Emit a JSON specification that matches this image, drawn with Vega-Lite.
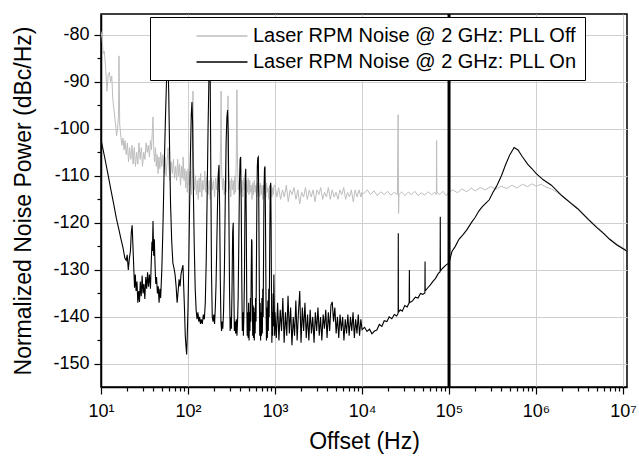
{
"$schema":"https://vega.github.io/schema/vega-lite/v6.json",
"width":526,"height":373,
"autosize":{"type":"none"},
"padding":{"left":101,"top":14,"right":12,"bottom":76},
"background":"white",
"config":{
"font":"Liberation Sans",
"view":{"stroke":"black","strokeWidth":1.5},
"axis":{"domainColor":"black","domainWidth":1.5,"tickColor":"black","tickWidth":1.2,"labelColor":"black","titleColor":"black","labelFont":"Liberation Sans","titleFont":"Liberation Sans","labelFontSize":18,"titleFontSize":23,"titleFontWeight":"normal","gridColor":"#cfcfcf","gridWidth":1}
},
"datasets":{
"noise":[
{"s":"Off","f":10,"v":-79.3},{"s":"Off","f":10.3,"v":-80.8},{"s":"Off","f":10.6,"v":-84},{"s":"Off","f":10.9,"v":-83.5},{"s":"Off","f":11.3,"v":-87},{"s":"Off","f":11.7,"v":-92},{"s":"Off","f":12.1,"v":-88.5},{"s":"Off","f":12.5,"v":-88},{"s":"Off","f":12.9,"v":-90},{"s":"Off","f":13.3,"v":-88.8},{"s":"Off","f":13.7,"v":-94},{"s":"Off","f":14.1,"v":-96},{"s":"Off","f":14.6,"v":-98.5},{"s":"Off","f":15.1,"v":-101.5},{"s":"Off","f":15.5,"v":-100},{"s":"Off","f":15.9,"v":-97},{"s":"Off","f":16.1,"v":-84.5},{"s":"Off","f":16.4,"v":-99},{"s":"Off","f":16.9,"v":-101.5},{"s":"Off","f":17.4,"v":-103.5},{"s":"Off","f":17.9,"v":-102},{"s":"Off","f":18.4,"v":-104.5},{"s":"Off","f":18.9,"v":-102.5},{"s":"Off","f":19.5,"v":-105.5},{"s":"Off","f":20.1,"v":-103},{"s":"Off","f":20.7,"v":-107},{"s":"Off","f":21.3,"v":-104},{"s":"Off","f":22,"v":-106.5},{"s":"Off","f":22.7,"v":-103.5},{"s":"Off","f":23.4,"v":-107.5},{"s":"Off","f":24.1,"v":-104},{"s":"Off","f":24.9,"v":-108},{"s":"Off","f":25.7,"v":-105},{"s":"Off","f":26.5,"v":-107.5},{"s":"Off","f":27.3,"v":-103},{"s":"Off","f":28.2,"v":-106.5},{"s":"Off","f":29.1,"v":-104},{"s":"Off","f":30,"v":-108},{"s":"Off","f":31,"v":-105},{"s":"Off","f":32,"v":-106.5},{"s":"Off","f":33,"v":-103},{"s":"Off","f":34,"v":-105},{"s":"Off","f":35,"v":-103.5},{"s":"Off","f":36,"v":-106},{"s":"Off","f":37,"v":-102.5},{"s":"Off","f":38,"v":-104.5},{"s":"Off","f":39,"v":-100},{"s":"Off","f":39.6,"v":-97.5},{"s":"Off","f":40.3,"v":-104},{"s":"Off","f":41.2,"v":-107},{"s":"Off","f":42.2,"v":-104},{"s":"Off","f":43.2,"v":-108},{"s":"Off","f":44.2,"v":-105.5},{"s":"Off","f":45.3,"v":-109.5},{"s":"Off","f":46.4,"v":-106},{"s":"Off","f":47.5,"v":-108.5},{"s":"Off","f":48.6,"v":-105},{"s":"Off","f":50,"v":-108},{"s":"Off","f":51.5,"v":-105.5},{"s":"Off","f":53,"v":-109.5},{"s":"Off","f":54.5,"v":-106},{"s":"Off","f":56,"v":-110},{"s":"Off","f":57.5,"v":-107},{"s":"Off","f":59,"v":-104},{"s":"Off","f":60.5,"v":-108.5},{"s":"Off","f":62,"v":-111},{"s":"Off","f":64,"v":-107},{"s":"Off","f":66,"v":-109.5},{"s":"Off","f":68,"v":-106.5},{"s":"Off","f":70,"v":-110.5},{"s":"Off","f":72,"v":-108},{"s":"Off","f":74,"v":-111},{"s":"Off","f":76,"v":-106.5},{"s":"Off","f":78,"v":-110},{"s":"Off","f":80,"v":-107.5},{"s":"Off","f":82,"v":-112},{"s":"Off","f":84,"v":-108},{"s":"Off","f":86,"v":-110.5},{"s":"Off","f":88,"v":-106},{"s":"Off","f":90,"v":-111},{"s":"Off","f":92,"v":-108.5},{"s":"Off","f":94,"v":-112.5},{"s":"Off","f":96,"v":-109},{"s":"Off","f":98,"v":-113.5},{"s":"Off","f":100,"v":-108.5},{"s":"Off","f":103,"v":-112},{"s":"Off","f":106,"v":-109},{"s":"Off","f":109,"v":-114},{"s":"Off","f":112,"v":-106},{"s":"Off","f":114,"v":-92},{"s":"Off","f":116,"v":-108},{"s":"Off","f":119,"v":-113},{"s":"Off","f":122,"v":-110},{"s":"Off","f":125,"v":-114},{"s":"Off","f":128,"v":-111},{"s":"Off","f":131,"v":-115},{"s":"Off","f":134,"v":-110.5},{"s":"Off","f":137,"v":-113.5},{"s":"Off","f":140,"v":-109.5},{"s":"Off","f":144,"v":-114.5},{"s":"Off","f":148,"v":-111},{"s":"Off","f":152,"v":-113},{"s":"Off","f":156,"v":-109},{"s":"Off","f":160,"v":-113.5},{"s":"Off","f":165,"v":-110},{"s":"Off","f":170,"v":-114},{"s":"Off","f":175,"v":-111},{"s":"Off","f":180,"v":-115},{"s":"Off","f":185,"v":-110.5},{"s":"Off","f":190,"v":-113},{"s":"Off","f":196,"v":-111},{"s":"Off","f":202,"v":-114.5},{"s":"Off","f":208,"v":-110.5},{"s":"Off","f":214,"v":-113},{"s":"Off","f":220,"v":-110},{"s":"Off","f":226,"v":-113.5},{"s":"Off","f":232,"v":-110.5},{"s":"Off","f":237,"v":-103},{"s":"Off","f":240,"v":-92},{"s":"Off","f":243,"v":-108},{"s":"Off","f":249,"v":-113},{"s":"Off","f":255,"v":-110.5},{"s":"Off","f":261,"v":-114},{"s":"Off","f":267,"v":-111},{"s":"Off","f":273,"v":-113.5},{"s":"Off","f":279,"v":-110},{"s":"Off","f":284,"v":-102},{"s":"Off","f":288,"v":-93},{"s":"Off","f":292,"v":-105},{"s":"Off","f":297,"v":-113},{"s":"Off","f":303,"v":-111},{"s":"Off","f":310,"v":-114.5},{"s":"Off","f":317,"v":-110.5},{"s":"Off","f":324,"v":-113},{"s":"Off","f":331,"v":-111},{"s":"Off","f":338,"v":-114},{"s":"Off","f":345,"v":-110},{"s":"Off","f":352,"v":-113.5},{"s":"Off","f":359,"v":-106},{"s":"Off","f":365,"v":-91.7},{"s":"Off","f":371,"v":-108},{"s":"Off","f":378,"v":-113},{"s":"Off","f":386,"v":-111},{"s":"Off","f":394,"v":-114},{"s":"Off","f":402,"v":-110.5},{"s":"Off","f":410,"v":-113.5},{"s":"Off","f":418,"v":-111},{"s":"Off","f":427,"v":-114.5},{"s":"Off","f":436,"v":-110.5},{"s":"Off","f":445,"v":-113},{"s":"Off","f":454,"v":-111.5},{"s":"Off","f":463,"v":-114.5},{"s":"Off","f":472,"v":-111},{"s":"Off","f":482,"v":-113.5},{"s":"Off","f":492,"v":-110.5},{"s":"Off","f":502,"v":-114},{"s":"Off","f":512,"v":-111},{"s":"Off","f":522,"v":-113.5},{"s":"Off","f":533,"v":-112},{"s":"Off","f":544,"v":-115},{"s":"Off","f":555,"v":-111.5},{"s":"Off","f":566,"v":-114},{"s":"Off","f":578,"v":-111},{"s":"Off","f":590,"v":-113.5},{"s":"Off","f":602,"v":-112},{"s":"Off","f":614,"v":-114.5},{"s":"Off","f":627,"v":-111.5},{"s":"Off","f":640,"v":-113.5},{"s":"Off","f":653,"v":-112},{"s":"Off","f":666,"v":-114.5},{"s":"Off","f":680,"v":-111.5},{"s":"Off","f":694,"v":-114},{"s":"Off","f":708,"v":-112},{"s":"Off","f":722,"v":-115},{"s":"Off","f":737,"v":-112},{"s":"Off","f":752,"v":-114},{"s":"Off","f":767,"v":-112},{"s":"Off","f":783,"v":-114.5},{"s":"Off","f":799,"v":-111.5},{"s":"Off","f":815,"v":-113.5},{"s":"Off","f":832,"v":-112.5},{"s":"Off","f":849,"v":-115},{"s":"Off","f":866,"v":-112},{"s":"Off","f":884,"v":-114},{"s":"Off","f":902,"v":-112},{"s":"Off","f":921,"v":-114.5},{"s":"Off","f":940,"v":-112.5},{"s":"Off","f":959,"v":-114},{"s":"Off","f":979,"v":-112},{"s":"Off","f":1000,"v":-112},
{"s":"Off","f":1050,"v":-114.5},{"s":"Off","f":1100,"v":-112.5},{"s":"Off","f":1160,"v":-115},{"s":"Off","f":1220,"v":-113},{"s":"Off","f":1280,"v":-114.5},{"s":"Off","f":1350,"v":-112},{"s":"Off","f":1420,"v":-115.5},{"s":"Off","f":1490,"v":-113},{"s":"Off","f":1570,"v":-114},{"s":"Off","f":1650,"v":-112.5},{"s":"Off","f":1740,"v":-115},{"s":"Off","f":1830,"v":-113},{"s":"Off","f":1920,"v":-116},{"s":"Off","f":2020,"v":-113.5},{"s":"Off","f":2130,"v":-114.5},{"s":"Off","f":2240,"v":-112.5},{"s":"Off","f":2350,"v":-115},{"s":"Off","f":2480,"v":-113},{"s":"Off","f":2600,"v":-114.5},{"s":"Off","f":2740,"v":-113},{"s":"Off","f":2880,"v":-115.5},{"s":"Off","f":3030,"v":-113},{"s":"Off","f":3190,"v":-114},{"s":"Off","f":3350,"v":-112.5},{"s":"Off","f":3530,"v":-115},{"s":"Off","f":3710,"v":-113.5},{"s":"Off","f":3900,"v":-114.5},{"s":"Off","f":4100,"v":-112.5},{"s":"Off","f":4320,"v":-115},{"s":"Off","f":4540,"v":-113},{"s":"Off","f":4780,"v":-114.5},{"s":"Off","f":5030,"v":-113.5},{"s":"Off","f":5290,"v":-115},{"s":"Off","f":5560,"v":-113},{"s":"Off","f":5850,"v":-114},{"s":"Off","f":6160,"v":-112.5},{"s":"Off","f":6480,"v":-115},{"s":"Off","f":6810,"v":-113.5},{"s":"Off","f":7170,"v":-114.5},{"s":"Off","f":7540,"v":-113},{"s":"Off","f":7930,"v":-115.5},{"s":"Off","f":8350,"v":-113},{"s":"Off","f":8780,"v":-114.5},{"s":"Off","f":9240,"v":-113},{"s":"Off","f":9720,"v":-114.5},{"s":"Off","f":10000,"v":-113.5},
{"s":"Off","f":10500,"v":-113.8},{"s":"Off","f":11500,"v":-113},{"s":"Off","f":12500,"v":-114},{"s":"Off","f":13700,"v":-113.2},{"s":"Off","f":15000,"v":-114.2},{"s":"Off","f":16400,"v":-113.4},{"s":"Off","f":18000,"v":-114},{"s":"Off","f":19700,"v":-113.3},{"s":"Off","f":21500,"v":-114.1},{"s":"Off","f":23500,"v":-113.5},{"s":"Off","f":25500,"v":-114},{"s":"Off","f":26000,"v":-97},{"s":"Off","f":26300,"v":-118},{"s":"Off","f":26600,"v":-114},{"s":"Off","f":28500,"v":-113.4},{"s":"Off","f":31000,"v":-114.2},{"s":"Off","f":34000,"v":-113.5},{"s":"Off","f":37000,"v":-114},{"s":"Off","f":40500,"v":-113.3},{"s":"Off","f":44000,"v":-114.2},{"s":"Off","f":48000,"v":-113.6},{"s":"Off","f":52500,"v":-114.1},{"s":"Off","f":57500,"v":-113.4},{"s":"Off","f":63000,"v":-114},{"s":"Off","f":68500,"v":-113.5},{"s":"Off","f":71500,"v":-114},{"s":"Off","f":72000,"v":-102.5},{"s":"Off","f":72500,"v":-113.5},{"s":"Off","f":78000,"v":-114},{"s":"Off","f":85000,"v":-113.3},{"s":"Off","f":92500,"v":-114.2},{"s":"Off","f":100000,"v":-113.5},
{"s":"Off","f":110000,"v":-113},{"s":"Off","f":125000,"v":-113.6},{"s":"Off","f":140000,"v":-112.8},{"s":"Off","f":160000,"v":-113.4},{"s":"Off","f":180000,"v":-112.6},{"s":"Off","f":200000,"v":-113.2},{"s":"Off","f":230000,"v":-112.5},{"s":"Off","f":260000,"v":-113},{"s":"Off","f":300000,"v":-112.3},{"s":"Off","f":350000,"v":-112.8},{"s":"Off","f":400000,"v":-112.2},{"s":"Off","f":460000,"v":-112.7},{"s":"Off","f":530000,"v":-112},{"s":"Off","f":600000,"v":-112.6},{"s":"Off","f":700000,"v":-111.8},{"s":"Off","f":800000,"v":-112.3},{"s":"Off","f":900000,"v":-111.7},{"s":"Off","f":1000000,"v":-112.2},{"s":"Off","f":1150000,"v":-111.8},{"s":"Off","f":1300000,"v":-112.4},{"s":"Off","f":1500000,"v":-112.8},{"s":"Off","f":1700000,"v":-113.4},{"s":"Off","f":2000000,"v":-114.3},{"s":"Off","f":2500000,"v":-115.6},{"s":"Off","f":3000000,"v":-116.8},{"s":"Off","f":4000000,"v":-119.1},{"s":"Off","f":5000000,"v":-120.8},{"s":"Off","f":6000000,"v":-122.1},{"s":"Off","f":7000000,"v":-123.3},{"s":"Off","f":8500000,"v":-124.5},{"s":"Off","f":10000000,"v":-125.3},{"s":"Off","f":11000000,"v":-125.8},
{"s":"On","f":10,"v":-102.3},{"s":"On","f":11,"v":-106},{"s":"On","f":12,"v":-109.6},{"s":"On","f":13,"v":-113},{"s":"On","f":14,"v":-116},{"s":"On","f":15,"v":-119},{"s":"On","f":16,"v":-121.3},{"s":"On","f":17,"v":-123.5},{"s":"On","f":17.9,"v":-125.3},{"s":"On","f":18.8,"v":-127.5},{"s":"On","f":19.5,"v":-128},{"s":"On","f":20,"v":-126.8},{"s":"On","f":20.6,"v":-130},{"s":"On","f":21.2,"v":-127.5},{"s":"On","f":21.8,"v":-126},{"s":"On","f":22.3,"v":-122},{"s":"On","f":22.8,"v":-120.5},{"s":"On","f":23.3,"v":-125},{"s":"On","f":23.8,"v":-129.5},{"s":"On","f":24.3,"v":-133.8},{"s":"On","f":24.8,"v":-131},{"s":"On","f":25.3,"v":-134.5},{"s":"On","f":25.9,"v":-132.5},{"s":"On","f":26.5,"v":-137},{"s":"On","f":27.1,"v":-134.5},{"s":"On","f":27.7,"v":-136.8},{"s":"On","f":28.3,"v":-132.5},{"s":"On","f":29,"v":-135.6},{"s":"On","f":29.7,"v":-131.2},{"s":"On","f":30.4,"v":-135},{"s":"On","f":31.1,"v":-133},{"s":"On","f":31.9,"v":-136.2},{"s":"On","f":32.7,"v":-131.5},{"s":"On","f":33.5,"v":-134},{"s":"On","f":34.3,"v":-130.5},{"s":"On","f":35.1,"v":-133.6},{"s":"On","f":36,"v":-131},{"s":"On","f":37,"v":-134},{"s":"On","f":37.8,"v":-128.5},{"s":"On","f":38.5,"v":-124},{"s":"On","f":39,"v":-126},{"s":"On","f":39.6,"v":-119.6},{"s":"On","f":40.3,"v":-127},{"s":"On","f":41,"v":-123.5},{"s":"On","f":41.8,"v":-129},{"s":"On","f":42.6,"v":-133},{"s":"On","f":43.5,"v":-131.5},{"s":"On","f":44.5,"v":-135},{"s":"On","f":45.5,"v":-133.5},{"s":"On","f":46.5,"v":-137},{"s":"On","f":47.5,"v":-134},{"s":"On","f":48.5,"v":-136},{"s":"On","f":50,"v":-130},{"s":"On","f":51.5,"v":-121},{"s":"On","f":53,"v":-110},{"s":"On","f":55,"v":-98},{"s":"On","f":57,"v":-88},{"s":"On","f":58.5,"v":-84},{"s":"On","f":60,"v":-92},{"s":"On","f":61.5,"v":-105},{"s":"On","f":63,"v":-116},{"s":"On","f":65,"v":-124},{"s":"On","f":67,"v":-128.5},{"s":"On","f":69,"v":-129.6},{"s":"On","f":71,"v":-131},{"s":"On","f":73,"v":-133.5},{"s":"On","f":75,"v":-137},{"s":"On","f":77,"v":-134.5},{"s":"On","f":79,"v":-132},{"s":"On","f":81,"v":-133.5},{"s":"On","f":83,"v":-131},{"s":"On","f":85,"v":-130},{"s":"On","f":87.5,"v":-129},{"s":"On","f":89,"v":-133},{"s":"On","f":91,"v":-138},{"s":"On","f":93,"v":-144},{"s":"On","f":95,"v":-146.5},{"s":"On","f":96.5,"v":-148},{"s":"On","f":98,"v":-144},
{"s":"On","f":100,"v":-138},{"s":"On","f":102,"v":-129},{"s":"On","f":104,"v":-118},{"s":"On","f":106.5,"v":-106},{"s":"On","f":109,"v":-97},{"s":"On","f":111,"v":-94.3},{"s":"On","f":113,"v":-99},{"s":"On","f":115,"v":-112},{"s":"On","f":118,"v":-125},{"s":"On","f":121,"v":-134},{"s":"On","f":124,"v":-138.5},{"s":"On","f":127,"v":-140.5},{"s":"On","f":130,"v":-139},{"s":"On","f":133,"v":-141},{"s":"On","f":136,"v":-140},{"s":"On","f":139,"v":-141.5},{"s":"On","f":142,"v":-140.5},{"s":"On","f":146,"v":-141.5},{"s":"On","f":150,"v":-139.5},{"s":"On","f":154,"v":-140.5},{"s":"On","f":158,"v":-137},{"s":"On","f":162,"v":-128},{"s":"On","f":166,"v":-114},{"s":"On","f":170,"v":-100},{"s":"On","f":174,"v":-89},{"s":"On","f":177,"v":-84},{"s":"On","f":180,"v":-90},{"s":"On","f":183,"v":-110},{"s":"On","f":186,"v":-130},{"s":"On","f":190,"v":-140},{"s":"On","f":194,"v":-141},{"s":"On","f":198,"v":-139.5},{"s":"On","f":202,"v":-141.5},{"s":"On","f":206,"v":-138},{"s":"On","f":210,"v":-133},{"s":"On","f":214,"v":-125},{"s":"On","f":219,"v":-115},{"s":"On","f":223,"v":-109.5},{"s":"On","f":227,"v":-107.7},{"s":"On","f":231,"v":-117},{"s":"On","f":235,"v":-132},{"s":"On","f":239,"v":-141},{"s":"On","f":243,"v":-143},{"s":"On","f":247,"v":-141},{"s":"On","f":251,"v":-142.5},{"s":"On","f":256,"v":-139},{"s":"On","f":262,"v":-130},{"s":"On","f":268,"v":-115},{"s":"On","f":274,"v":-103},{"s":"On","f":280,"v":-97.5},{"s":"On","f":285,"v":-96},{"s":"On","f":290,"v":-101},{"s":"On","f":295,"v":-118},{"s":"On","f":300,"v":-134},{"s":"On","f":305,"v":-143},{"s":"On","f":310,"v":-140},{"s":"On","f":315,"v":-142.5},{"s":"On","f":320,"v":-135},{"s":"On","f":326,"v":-122},{"s":"On","f":331,"v":-120},{"s":"On","f":336,"v":-133},{"s":"On","f":341,"v":-143},{"s":"On","f":347,"v":-141},{"s":"On","f":353,"v":-143.5},{"s":"On","f":359,"v":-140.5},{"s":"On","f":365,"v":-144},{"s":"On","f":371,"v":-141},{"s":"On","f":377,"v":-136},{"s":"On","f":383,"v":-125},{"s":"On","f":390,"v":-112},{"s":"On","f":397,"v":-106.5},{"s":"On","f":403,"v":-106},{"s":"On","f":409,"v":-116},{"s":"On","f":415,"v":-132},{"s":"On","f":421,"v":-143},{"s":"On","f":427,"v":-139},{"s":"On","f":433,"v":-144},{"s":"On","f":439,"v":-139.5},{"s":"On","f":445,"v":-132},{"s":"On","f":450,"v":-120},{"s":"On","f":455,"v":-110},{"s":"On","f":461,"v":-108.5},{"s":"On","f":467,"v":-119},{"s":"On","f":473,"v":-136},{"s":"On","f":479,"v":-144},{"s":"On","f":485,"v":-139},{"s":"On","f":491,"v":-144.5},{"s":"On","f":497,"v":-137},{"s":"On","f":503,"v":-145},{"s":"On","f":509,"v":-139},{"s":"On","f":515,"v":-143},{"s":"On","f":521,"v":-136},{"s":"On","f":527,"v":-141},{"s":"On","f":533,"v":-130},{"s":"On","f":538,"v":-123.5},{"s":"On","f":543,"v":-124},{"s":"On","f":548,"v":-134},{"s":"On","f":554,"v":-144},{"s":"On","f":560,"v":-137.5},{"s":"On","f":566,"v":-144.5},{"s":"On","f":572,"v":-138},{"s":"On","f":578,"v":-145},{"s":"On","f":584,"v":-139},{"s":"On","f":591,"v":-143.5},{"s":"On","f":598,"v":-136},{"s":"On","f":605,"v":-141},{"s":"On","f":612,"v":-128},{"s":"On","f":619,"v":-115},{"s":"On","f":626,"v":-108},{"s":"On","f":634,"v":-106.2},{"s":"On","f":643,"v":-106},{"s":"On","f":651,"v":-116},{"s":"On","f":659,"v":-132},{"s":"On","f":667,"v":-144},{"s":"On","f":675,"v":-137},{"s":"On","f":683,"v":-145},{"s":"On","f":691,"v":-139},{"s":"On","f":699,"v":-144},{"s":"On","f":707,"v":-136},{"s":"On","f":715,"v":-143.5},{"s":"On","f":723,"v":-134},{"s":"On","f":731,"v":-140},{"s":"On","f":739,"v":-126},{"s":"On","f":747,"v":-113},{"s":"On","f":757,"v":-108.5},{"s":"On","f":767,"v":-108},{"s":"On","f":777,"v":-119},{"s":"On","f":787,"v":-135},{"s":"On","f":797,"v":-145},{"s":"On","f":807,"v":-138},{"s":"On","f":817,"v":-144.5},{"s":"On","f":827,"v":-136.5},{"s":"On","f":837,"v":-143},{"s":"On","f":847,"v":-134},{"s":"On","f":857,"v":-140},{"s":"On","f":867,"v":-128},{"s":"On","f":877,"v":-116},{"s":"On","f":885,"v":-112},{"s":"On","f":893,"v":-111.5},{"s":"On","f":902,"v":-121},{"s":"On","f":911,"v":-136},{"s":"On","f":920,"v":-145.5},{"s":"On","f":930,"v":-139},{"s":"On","f":940,"v":-144},{"s":"On","f":950,"v":-135},{"s":"On","f":960,"v":-142},{"s":"On","f":970,"v":-131},{"s":"On","f":980,"v":-137},{"s":"On","f":990,"v":-144},
{"s":"On","f":1000,"v":-139},{"s":"On","f":1035,"v":-144.5},{"s":"On","f":1071,"v":-137},{"s":"On","f":1109,"v":-145},{"s":"On","f":1148,"v":-138.5},{"s":"On","f":1188,"v":-143},{"s":"On","f":1230,"v":-136},{"s":"On","f":1273,"v":-145.5},{"s":"On","f":1318,"v":-139},{"s":"On","f":1364,"v":-144},{"s":"On","f":1411,"v":-135.5},{"s":"On","f":1461,"v":-143.5},{"s":"On","f":1512,"v":-138},{"s":"On","f":1565,"v":-146},{"s":"On","f":1620,"v":-140},{"s":"On","f":1677,"v":-144},{"s":"On","f":1735,"v":-136.5},{"s":"On","f":1796,"v":-145},{"s":"On","f":1859,"v":-139},{"s":"On","f":1924,"v":-134.5},{"s":"On","f":1991,"v":-145.5},{"s":"On","f":2061,"v":-138},{"s":"On","f":2133,"v":-143},{"s":"On","f":2208,"v":-137},{"s":"On","f":2285,"v":-144.5},{"s":"On","f":2365,"v":-139.5},{"s":"On","f":2448,"v":-145},{"s":"On","f":2534,"v":-138.5},{"s":"On","f":2622,"v":-143.5},{"s":"On","f":2714,"v":-140},{"s":"On","f":2809,"v":-145.5},{"s":"On","f":2907,"v":-139},{"s":"On","f":3009,"v":-143},{"s":"On","f":3115,"v":-138},{"s":"On","f":3224,"v":-144},{"s":"On","f":3336,"v":-140},{"s":"On","f":3453,"v":-145},{"s":"On","f":3574,"v":-139.5},{"s":"On","f":3699,"v":-142.5},{"s":"On","f":3829,"v":-138.5},{"s":"On","f":3963,"v":-144.5},{"s":"On","f":4101,"v":-139},{"s":"On","f":4245,"v":-143},{"s":"On","f":4393,"v":-137.5},{"s":"On","f":4547,"v":-136.8},{"s":"On","f":4706,"v":-141},{"s":"On","f":4871,"v":-138},{"s":"On","f":5042,"v":-143.5},{"s":"On","f":5218,"v":-140},{"s":"On","f":5401,"v":-144.5},{"s":"On","f":5590,"v":-139.5},{"s":"On","f":5785,"v":-143},{"s":"On","f":5988,"v":-140},{"s":"On","f":6197,"v":-145},{"s":"On","f":6414,"v":-140.5},{"s":"On","f":6639,"v":-143.5},{"s":"On","f":6871,"v":-139.5},{"s":"On","f":7112,"v":-144},{"s":"On","f":7360,"v":-140},{"s":"On","f":7618,"v":-143},{"s":"On","f":7885,"v":-139},{"s":"On","f":8161,"v":-144.5},{"s":"On","f":8446,"v":-140.5},{"s":"On","f":8742,"v":-143.5},{"s":"On","f":9048,"v":-139.5},{"s":"On","f":9365,"v":-144},{"s":"On","f":9692,"v":-140.5},
{"s":"On","f":10000,"v":-142.7},{"s":"On","f":10700,"v":-142.2},{"s":"On","f":11400,"v":-143.1},{"s":"On","f":12200,"v":-142.6},{"s":"On","f":13000,"v":-143.6},{"s":"On","f":13900,"v":-143},{"s":"On","f":14800,"v":-142.8},{"s":"On","f":15800,"v":-141.6},{"s":"On","f":16900,"v":-142},{"s":"On","f":18000,"v":-140.8},{"s":"On","f":19300,"v":-141},{"s":"On","f":20500,"v":-140},{"s":"On","f":22000,"v":-140.4},{"s":"On","f":23500,"v":-139.5},{"s":"On","f":25000,"v":-139.8},{"s":"On","f":26000,"v":-139.2},{"s":"On","f":26100,"v":-122.2},{"s":"On","f":26200,"v":-139},{"s":"On","f":27500,"v":-138.5},{"s":"On","f":29000,"v":-138.8},{"s":"On","f":31000,"v":-137.6},{"s":"On","f":33000,"v":-137.9},{"s":"On","f":34800,"v":-137},{"s":"On","f":35000,"v":-130},{"s":"On","f":35200,"v":-137},{"s":"On","f":38000,"v":-136.6},{"s":"On","f":41000,"v":-135.8},{"s":"On","f":44000,"v":-136},{"s":"On","f":47000,"v":-135},{"s":"On","f":50000,"v":-135.2},{"s":"On","f":52800,"v":-134.9},{"s":"On","f":53000,"v":-128.2},{"s":"On","f":53200,"v":-134.5},{"s":"On","f":57000,"v":-133.8},{"s":"On","f":61000,"v":-133.2},{"s":"On","f":65000,"v":-132.5},{"s":"On","f":70000,"v":-131.8},{"s":"On","f":75000,"v":-130.8},{"s":"On","f":79000,"v":-130.4},{"s":"On","f":79300,"v":-118.7},{"s":"On","f":79600,"v":-130.2},{"s":"On","f":85000,"v":-129.6},{"s":"On","f":92000,"v":-129},{"s":"On","f":100000,"v":-128.5},{"s":"On","f":108000,"v":-126.1},{"s":"On","f":118000,"v":-125},{"s":"On","f":130000,"v":-123.5},{"s":"On","f":145000,"v":-122.5},{"s":"On","f":160000,"v":-121.5},{"s":"On","f":180000,"v":-120},{"s":"On","f":200000,"v":-118.8},{"s":"On","f":220000,"v":-117.5},{"s":"On","f":240000,"v":-116.6},{"s":"On","f":265000,"v":-115.8},{"s":"On","f":290000,"v":-115.1},{"s":"On","f":320000,"v":-113.5},{"s":"On","f":350000,"v":-112.3},{"s":"On","f":400000,"v":-110},{"s":"On","f":450000,"v":-107.5},{"s":"On","f":500000,"v":-105.5},{"s":"On","f":560000,"v":-104},{"s":"On","f":620000,"v":-104.5},{"s":"On","f":700000,"v":-106},{"s":"On","f":800000,"v":-107.5},{"s":"On","f":900000,"v":-108.5},{"s":"On","f":1000000,"v":-109.5},{"s":"On","f":1200000,"v":-110.8},{"s":"On","f":1500000,"v":-112},{"s":"On","f":2000000,"v":-114.3},{"s":"On","f":2500000,"v":-115.8},{"s":"On","f":3000000,"v":-117},{"s":"On","f":4000000,"v":-119.3},{"s":"On","f":5000000,"v":-121},{"s":"On","f":6000000,"v":-122.3},{"s":"On","f":7000000,"v":-123.5},{"s":"On","f":8500000,"v":-124.7},{"s":"On","f":10000000,"v":-125.5},{"s":"On","f":11000000,"v":-126}
]
},
"encoding":{
"x":{"field":"f","type":"quantitative",
"scale":{"type":"log","domain":[10,11100000],"nice":false},
"axis":{"title":"Offset (Hz)","values":[10,20,30,40,50,60,70,80,90,100,200,300,400,500,600,700,800,900,1000,2000,3000,4000,5000,6000,7000,8000,9000,10000,20000,30000,40000,50000,60000,70000,80000,90000,100000,200000,300000,400000,500000,600000,700000,800000,900000,1000000,2000000,3000000,4000000,5000000,6000000,7000000,8000000,9000000,10000000],
"labelExpr":"abs(log(datum.value)/LN10 - round(log(datum.value)/LN10)) < 0.001 ? '10' + ['⁰','¹','²','³','⁴','⁵','⁶','⁷'][round(log(datum.value)/LN10)] : ''",
"labelOverlap":false,"labelFlush":false,"labelPadding":8,"titlePadding":10,
"tickSize":{"condition":{"test":"abs(log(datum.value)/LN10 - round(log(datum.value)/LN10)) < 0.001","value":7},"value":4},
"gridOpacity":{"condition":{"test":"abs(log(datum.value)/LN10 - round(log(datum.value)/LN10)) < 0.001","value":1},"value":0}}}
},
"layer":[
{"data":{"name":"noise"},
"encoding":{
"y":{"field":"v","type":"quantitative","scale":{"domain":[-154.9,-75.6],"nice":false,"zero":false},
"axis":{"title":"Normalized Noise Power (dBc/Hz)","values":[-150,-145,-140,-135,-130,-125,-120,-115,-110,-105,-100,-95,-90,-85,-80],
"labelExpr":"datum.value % 10 == 0 ? '' + datum.value : ''","labelPadding":5,"titlePadding":17,
"tickSize":{"condition":{"test":"datum.value % 10 == 0","value":7},"value":4},
"gridOpacity":{"condition":{"test":"datum.value % 10 == 0","value":1},"value":0}}},
"color":{"field":"s","type":"nominal","scale":{"domain":["Off","On"],"range":["#bdbdbd","#000000"]},
"legend":{"title":null,"orient":"none","legendX":49,"legendY":3,"labelExpr":"'Laser RPM Noise @ 2 GHz: PLL ' + datum.label","symbolType":"M-2.5,0H2.5","symbolSize":416,"symbolStrokeWidth":1.5,"labelFontSize":20,"labelFont":"Liberation Sans","labelColor":"black","strokeColor":"black","fillColor":"white","padding":8,"symbolOffset":53,"labelOffset":20,"rowPadding":5,"labelLimit":0,
"encode":{"legend":{"update":{"width":{"value":458}}}}}}
},
"layer":[
{"transform":[{"filter":"datum.s == 'Off'"}],"mark":{"type":"line","strokeWidth":1,"clip":true}},
{"transform":[{"filter":"datum.s == 'On'"}],"mark":{"type":"line","strokeWidth":1.1,"clip":true}}
]},
{"data":{"values":[{"f":100000}]},"mark":{"type":"rule","color":"black","strokeWidth":3},"encoding":{}}
]
}
